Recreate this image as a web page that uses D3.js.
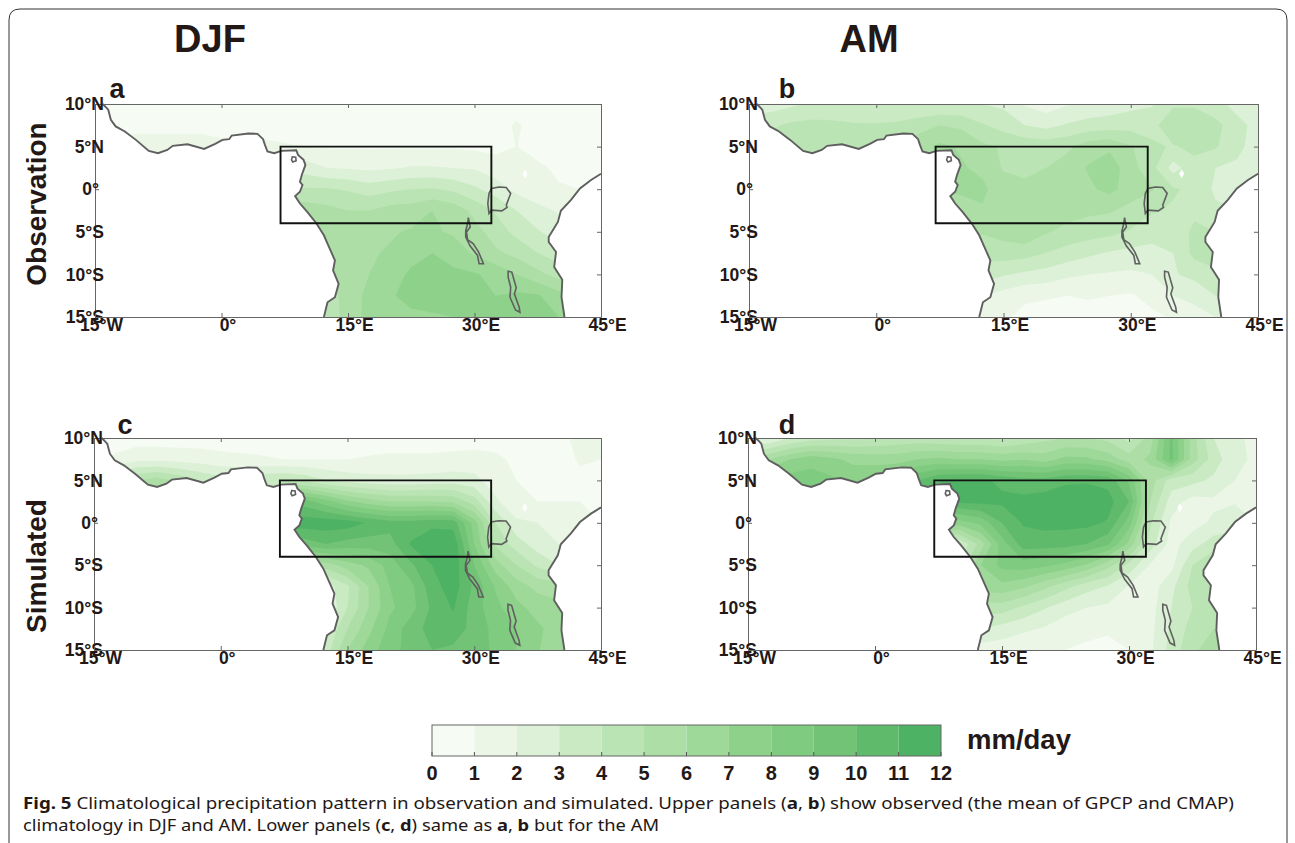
<!DOCTYPE html>
<html>
<head>
<meta charset="utf-8">
<script src="https://d3js.org/d3.v7.min.js"></script>
<style>
  html, body { margin: 0; background: #fff; }
  svg { display: block; font-family: "Liberation Sans", Arial, sans-serif; }
  .axis text { font-size: 17.5px; font-weight: bold; fill: #231815; font-family: "Liberation Sans", Arial, sans-serif; }
  .axis path, .axis line { stroke: #666; }
</style>
</head>
<body>
<div id="chart"></div>
<script>
// Grid the precipitation was read on: 25 longitudes x 11 latitudes (2.5 deg)
const gridLons = d3.range(25).map(i => -15 + i * 2.5);
const gridLats = d3.range(11).map(j => 10 - j * 2.5);
const levels = [0, 1, 2, 3, 4, 5, 6, 7, 8, 9, 10, 11, 12];
const bandColors = ["#f6fbf3", "#ebf6e7", "#dcf1d7", "#c9eac2", "#bae4b3", "#acdea6", "#9ed99a", "#8ed18b", "#7fcb7f", "#73c377", "#5fba6c", "#4eb264"];
const lonTicks = [-15, 0, 15, 30, 45];
const latTicks = [10, 5, 0, -5, -10, -15];

// Panel a: observation DJF (mm/day)
const precipA = [
  [.5,.5,.5,.5,.5,.5,.5,.5,.5,.5,.5,.5,.5,.5,.5,.5,.5,.5,.5,.5,.5,.5,.5,.5,.5],
  [.6,.6,.8,.8,.8,.8,.7,.6,.6,.5,.5,.5,.5,.5,.5,.5,.5,.5,.5,.5,1.15,.5,.5,.5,.5],
  [1.3,1.3,1.3,1.3,1.3,1.3,1.2,1.2,1.2,1.1,1,.9,.9,.9,.9,.9,.9,.9,.8,.7,1.02,.6,.5,.5,.5],
  [1.3,1.3,1.3,1.3,1.3,1.3,1.2,1.2,1.2,2.5,2.5,2,1.9,1.8,1.9,2.1,2.1,2,1.9,1.5,1.3,1.2,.8,.6,.5],
  [0,0,0,0,0,0,0,0,4,4,4.1,4.1,3.9,3.5,3.8,4,4.1,3.8,3.2,2.5,1.7,1.3,1.1,1,1],
  [0,0,0,0,0,0,0,0,5,5.5,5.6,5.3,5,5,5.4,5.5,6,5.6,4.7,3.9,3,2.3,1.9,1.5,1],
  [0,0,0,0,0,0,0,0,0,5,5.5,5.7,5.7,5.9,5.9,6.1,6.1,5.9,5.4,4.5,3.7,3.1,2.5,2.5,2.5],
  [0,0,0,0,0,0,0,0,0,0,5.5,5.5,5.8,5.9,6.1,6.6,7,6.4,5.9,5.2,4.7,4,3.5,3.5,3.5],
  [0,0,0,0,0,0,0,0,0,0,5,5,5.5,6,6.5,7.2,7.4,7.3,7.1,6.7,6,5.3,4.6,4.6,4.6],
  [0,0,0,0,0,0,0,0,0,0,4.5,4.5,5.4,6.3,6.9,7.3,7.4,7.4,7.4,7,7.2,7.1,6.4,6.4,6.4],
  [0,0,0,0,0,0,0,0,0,0,4.2,4.2,5.5,6.3,6.6,6.8,6.9,7,7,7,7.1,7.2,7,7,7]
];
// Panel b: observation AM
const precipB = [
  [2.5,2.5,2.8,3.2,3.3,3.2,3.1,3,2.9,3,3,3,2.8,1.9,1.5,1.9,2.2,2.4,2.7,2.9,3.8,3.8,3.2,2.8,2.5],
  [3.5,3.8,4.2,4.3,4.2,4.1,4.1,4.2,4.6,5,4.8,4.1,3.6,3,2.7,3.1,3.4,3.5,3.6,3.6,4.9,4.9,4.4,3.2,2.8],
  [4.5,4.5,4.7,4.8,4.6,4.4,4.5,5,5.6,6.2,5.9,5.2,4.9,4.7,4.6,4.8,5.5,5.8,5.1,4.2,3.9,4.3,4.1,3.3,2.5],
  [4.5,4.5,4.7,4.8,4.6,4.4,4.5,5,5.6,6,6.1,5.8,4.9,4.8,5,5.4,6.1,6.6,5.4,4.3,2.6,3.6,3,2.8,2.5],
  [0,0,0,0,0,0,0,0,6,6,6.2,6.2,5.5,5.2,5.4,5.6,5.8,6.3,5.5,5.1,4.1,3.8,2.8,2.5,2.3],
  [0,0,0,0,0,0,0,0,5.5,5.5,5.5,5.9,5.7,5.5,5.5,5.4,5.2,5.1,4.7,4.1,3.9,3.8,3.2,3,3],
  [0,0,0,0,0,0,0,0,0,5,5,5.1,5.4,5.8,5.1,4.7,4.5,4.3,3.9,3.5,3.4,4.2,4,4,4],
  [0,0,0,0,0,0,0,0,0,0,4.3,4.3,4.5,4.4,4,3.6,3.2,2.9,2.7,2.6,3,4.3,5,5,5],
  [0,0,0,0,0,0,0,0,0,0,3.6,3.6,3.1,2.8,2.6,2.2,2,1.9,1.8,2,2.9,3.3,3.6,3.6,3.6],
  [0,0,0,0,0,0,0,0,0,0,2,2,1.6,1.2,1.1,1,1.1,1,.9,1.3,2,2.3,3,3,3],
  [0,0,0,0,0,0,0,0,0,0,1.5,1.5,1.2,.7,.6,.6,.6,.6,.6,.8,1.1,1.6,2,2,2]
];
// Panel c: simulated DJF
const precipC = [
  [.5,.5,.5,.5,.5,.5,.5,.5,.5,.5,.5,.5,.5,.5,.5,.5,.5,.5,.5,.6,.5,.5,.7,1.3,1.1],
  [.6,1.2,1.7,1.7,1.6,1.5,1.3,1.2,1.1,1,1,1,1,1.1,1.2,1.2,1.2,1.3,1.4,1.2,.8,.6,.6,1.1,1],
  [3,4,5,5.5,4.8,4,3.4,3.3,3.8,4,3.7,3,2.6,2.4,2.3,2.3,2.4,2.5,2.3,1.5,1,.9,.8,.8,.8],
  [3,4,5,5.5,4.8,4,3.4,3.3,3.8,9,9.5,8.4,7.2,6.5,6,6,6,5.8,4.5,2.2,1.2,1,1,1,.8],
  [0,0,0,0,0,0,0,0,11.5,11.5,11.6,11.6,11.5,10.9,10.4,10.4,10.7,10.6,7.5,4,2.2,2,1.6,1.1,1],
  [0,0,0,0,0,0,0,0,9.5,9.5,9.5,10,9.6,9.5,9.6,11.1,11.8,11.8,8,4.8,3.5,2.5,2,1.8,1.5],
  [0,0,0,0,0,0,0,0,0,5,5,5.5,6.5,7.2,8.4,9.8,11,11.8,9,6.5,5,3.8,3,3,3],
  [0,0,0,0,0,0,0,0,0,0,2.5,2.5,3.8,6,8,8.7,10.6,11.5,9.8,7.9,6.5,5.7,5.5,5.5,5.5],
  [0,0,0,0,0,0,0,0,0,0,2,2,4,6,7.8,8.6,10.2,11.1,9.5,8.3,7.3,6.6,6.3,6.3,6.3],
  [0,0,0,0,0,0,0,0,0,0,3,3,5,6.7,8.3,9.5,10.4,10.6,9.6,8.7,8,7.2,6.5,6.5,6.5],
  [0,0,0,0,0,0,0,0,0,0,3.5,3.5,6,7.5,8.6,9.4,10,9.8,9.5,8.8,8,7.1,6.2,6.2,6.2]
];
// Panel d: simulated AM
const precipD = [
  [2,2,3,3.5,3.7,3.8,4,4.2,4.3,4.2,4,4,3.8,4.2,4.7,5,5,4.7,3.6,5.5,9.2,5.5,3,2.4,1.5],
  [5,6,7,7.6,7.2,6.7,6.6,6.6,7,7.2,7,7,6.7,6.9,6.5,7.3,7.2,6.6,5.5,6.2,9.3,5.5,3.5,2.3,1.8],
  [8,8.3,8.5,8.5,8.2,7.8,8,8.5,10,11,11.2,11.2,10.8,10.4,10.4,10.8,10.9,10.7,8.8,5.5,3.5,3.3,2.8,2,1.5],
  [8,8.3,8.5,8.5,8.2,7.8,8,8.5,10,10,11.2,11.3,11.2,11.3,11.5,11.7,11.6,11.4,10,5,2.5,1.6,1.8,1.9,1.6],
  [0,0,0,0,0,0,0,0,8,8,7.5,8.3,10,11.1,11.3,11.3,11.3,10.9,8.5,4.2,1.8,1.6,2.2,2.7,2],
  [0,0,0,0,0,0,0,0,3,3,3,5.5,8.5,10.5,10.5,10.4,10,9.2,6.7,3.5,1.6,2.6,3.5,3.5,3],
  [0,0,0,0,0,0,0,0,0,4,4,7,8.3,8.5,8.2,7.7,6.8,5.4,3.7,1.9,1.7,4,5,5,5],
  [0,0,0,0,0,0,0,0,0,0,6.5,6.5,6.7,6.2,5.3,4.3,3.4,2.9,1.9,1.5,2.7,4.4,5,5,5],
  [0,0,0,0,0,0,0,0,0,0,4.5,4.5,4.5,3.8,3.1,2.4,2,1.8,1.4,1.6,3,4,4.5,4.5,4.5],
  [0,0,0,0,0,0,0,0,0,0,3,3,2.6,2.2,1.9,1.4,1.3,1.2,1.2,1.7,3.2,4.4,5,5,5],
  [0,0,0,0,0,0,0,0,0,0,1.5,1.5,1.4,1.2,1.1,1,.8,.6,1,1.8,3.4,4.8,5.5,5.5,5.5]
];

// Coastlines and lakes as [lon, lat]
const westCoast = [[-14.08,10],[-13.43,9.33],[-13.12,8.15],[-12.55,7.37],[-11.46,6.78],[-10.15,5.79],[-8.62,4.5],[-7.53,4.22],[-6.43,4.61],[-5.78,5.09],[-4.03,5.28],[-2.06,4.73],[-.75,5.32],[.12,5.79],[.91,5.87],[1.21,6.3],[3.18,6.54],[4.27,6.5],[4.93,5.87],[5.15,5.2],[5.45,4.42],[6.24,4.22],[7.11,4.5],[8.86,4.58],[9.08,4.02],[9.73,3.44],[9.95,2.85],[9.52,1.67],[9.3,.88],[9.6,.49],[9.3,-.3],[8.73,-.81],[9.3,-1.68],[10.17,-2.66],[11.26,-4.03],[12.14,-5.41],[12.57,-6.39],[13.45,-8.36],[13.23,-9.54],[13.89,-11.11],[13.45,-12.68],[12.57,-13.27],[12.14,-15]];
const eastCoast = [[40.67,-15],[40.32,-12.68],[40.41,-10.64],[39.45,-9.14],[39.67,-7.37],[38.8,-6.2],[38.8,-5.61],[39.89,-3.84],[40.24,-2.54],[41.42,-1.28],[42.51,.09],[43.82,1.08],[45,1.82]];
const lakeVictoria = [[31.72,-.5],[32.02,.09],[32.9,.25],[33.77,.21],[34.29,-.5],[33.77,-1.87],[33.86,-2.15],[33.24,-2.54],[32.02,-2.46],[31.72,-2.85],[31.58,-1.68]];
const lakeTanganyika = [[29.27,-3.33],[29.49,-4.43],[29.05,-5.02],[29.18,-5.92],[29.84,-6.39],[30.49,-7.38],[31.06,-8.75],[30.54,-8.75],[30.36,-7.77],[29.49,-6.67],[28.96,-5.61],[28.96,-4.9],[29.18,-4.03]];
const lakeMalawi = [[33.99,-9.62],[34.42,-9.73],[34.95,-11.58],[34.73,-12.29],[35.3,-13.86],[35.39,-14.45],[34.86,-14.18],[34.21,-12.68],[34.29,-11.5],[33.99,-10.32]];
const bioko = [[8.4,3.8],[8.8,3.75],[8.85,3.35],[8.45,3.2],[8.3,3.45]];
const studyBox = [[7,5],[32,5],[32,-4],[7,-4]];
const missingSpot = [36, 1.8];

const panels = [
  { letter: "a", values: precipA, left: 95, right: 601, top: 104, bottom: 317, letterX: 117, letterY: 98 },
  { letter: "b", values: precipB, left: 749, right: 1258, top: 104, bottom: 317, letterX: 787, letterY: 98 },
  { letter: "c", values: precipC, left: 94, right: 601, top: 438, bottom: 650, letterX: 125, letterY: 434 },
  { letter: "d", values: precipD, left: 748, right: 1256, top: 438, bottom: 650, letterX: 787, letterY: 434 }
];

const svg = d3.select("#chart").append("svg").attr("width", 1295).attr("height", 843);

// Article frame, open at the bottom
svg.append("path")
  .attr("d", "M9,843V20Q9,9 20,9H1276Q1287,9 1287,20V843")
  .attr("fill", "none").attr("stroke", "#333").attr("stroke-width", 1);

const color = d3.scaleThreshold().domain(levels.slice(1, -1)).range(bandColors);

panels.forEach(drawPanel);

function drawPanel(p, idx) {
  const x = d3.scaleLinear().domain([-15, 45]).range([p.left, p.right]);
  const y = d3.scaleLinear().domain([-15, 10]).range([p.bottom, p.top]);
  const g = svg.append("g");
  const line = d3.line().x(d => x(d[0])).y(d => y(d[1]));

  // land shape clips the filled contours
  const land = westCoast.concat(eastCoast, [[45, 10]]);
  g.append("clipPath").attr("id", "land" + idx).append("path").attr("d", line(land) + "Z");
  const filled = g.append("g").attr("clip-path", `url(#land${idx})`);
  filled.append("rect")
    .attr("x", p.left).attr("y", p.top)
    .attr("width", p.right - p.left).attr("height", p.bottom - p.top)
    .attr("fill", bandColors[0]);

  // d3.contours puts grid index i at coordinate i + 0.5
  const contours = d3.contours()
    .size([gridLons.length, gridLats.length])
    .thresholds(levels.slice(1, -1))
    .smooth(true)(p.values.flat());
  const project = d3.geoTransform({
    point(cx, cy) {
      this.stream.point(x(gridLons[0] + (cx - 0.5) * 2.5), y(gridLats[0] - (cy - 0.5) * 2.5));
    }
  });
  filled.selectAll("path.band").data(contours).enter().append("path")
    .attr("class", "band")
    .attr("d", d3.geoPath(project))
    .attr("fill", d => color(d.value));

  // the small hole in the fields near 36E
  g.append("path")
    .attr("d", d3.symbol(d3.symbolDiamond, 22)())
    .attr("transform", `translate(${x(missingSpot[0])},${y(missingSpot[1])})`)
    .attr("fill", "#fff");

  // coast and lakes
  [westCoast, eastCoast].forEach(c => {
    g.append("path").attr("d", line(c)).attr("fill", "none").attr("stroke", "#5f5f5f").attr("stroke-width", 1.9);
  });
  [lakeVictoria, lakeTanganyika, lakeMalawi, bioko].forEach(c => {
    g.append("path").attr("d", line(c) + "Z").attr("fill", "none").attr("stroke", "#5f5f5f").attr("stroke-width", 1.6);
  });

  // axes, ticks pointing inside on all four sides
  const bottomAxis = d3.axisBottom(x).tickValues(lonTicks).tickSizeInner(-4).tickSizeOuter(0).tickPadding(2)
    .tickFormat(d => d === 0 ? "0°" : Math.abs(d) + (d < 0 ? "°W" : "°E"));
  const leftAxis = d3.axisLeft(y).tickValues(latTicks).tickSizeInner(-4).tickSizeOuter(0).tickPadding(-9)
    .tickFormat(d => d === 0 ? "0°" : Math.abs(d) + (d < 0 ? "°S" : "°N"));
  g.append("g").attr("class", "axis").attr("transform", `translate(0,${p.top})`)
    .call(d3.axisTop(x).tickValues(lonTicks).tickSizeInner(-4).tickSizeOuter(0).tickFormat(""));
  g.append("g").attr("class", "axis").attr("transform", `translate(${p.right},0)`)
    .call(d3.axisRight(y).tickValues(latTicks).tickSizeInner(-4).tickSizeOuter(0).tickFormat(""));
  const lx = g.append("g").attr("class", "axis").attr("transform", `translate(${p.left},0)`).call(leftAxis);
  lx.selectAll("text").filter(d => d === 0).attr("dx", -5);
  const bx = g.append("g").attr("class", "axis").attr("transform", `translate(0,${p.bottom})`).call(bottomAxis);
  bx.selectAll("text").attr("dx", 6);

  // study region
  g.append("path").attr("d", line(studyBox) + "Z").attr("fill", "none").attr("stroke", "#111").attr("stroke-width", 1.9);

  g.append("text").attr("x", p.letterX).attr("y", p.letterY).attr("text-anchor", "middle")
    .style("font-size", "27px").style("font-weight", "bold").attr("fill", "#231815").text(p.letter);
}

// Column and row titles
[["DJF", 210], ["AM", 869]].forEach(d => {
  svg.append("text").attr("x", d[1]).attr("y", 52).attr("text-anchor", "middle")
    .style("font-size", "38px").style("font-weight", "bold").attr("fill", "#231815").text(d[0]);
});
[["Observation", 204], ["Simulated", 566]].forEach(d => {
  svg.append("text").attr("transform", `translate(46,${d[1]}) rotate(-90)`).attr("text-anchor", "middle")
    .style("font-size", "28px").style("font-weight", "bold").attr("fill", "#231815").text(d[0]);
});

// Colour bar
const barX = d3.scaleLinear().domain([0, 12]).range([432, 941]);
const bar = svg.append("g");
bar.selectAll("rect").data(bandColors).enter().append("rect")
  .attr("x", (d, i) => barX(i)).attr("y", 725)
  .attr("width", (d, i) => barX(i + 1) - barX(i)).attr("height", 31)
  .attr("fill", d => d);
bar.append("rect").attr("x", barX(0)).attr("y", 725).attr("width", barX(12) - barX(0)).attr("height", 31)
  .attr("fill", "none").attr("stroke", "#666");
bar.selectAll("line").data(levels).enter().append("line")
  .attr("x1", d => barX(d)).attr("x2", d => barX(d)).attr("y1", 752).attr("y2", 756).attr("stroke", "#555");
bar.selectAll("text").data(levels).enter().append("text")
  .attr("x", d => barX(d)).attr("y", 780).attr("text-anchor", "middle")
  .style("font-size", "20px").style("font-weight", "bold").attr("fill", "#231815").text(d => d);
svg.append("text").attr("x", 967).attr("y", 749)
  .style("font-size", "27.5px").style("font-weight", "bold").attr("fill", "#231815").text("mm/day");

// Caption
const captionFont = '"Noto Sans", sans-serif';
const cap1 = svg.append("text").attr("x", 23).attr("y", 809).attr("textLength", 1211).attr("lengthAdjust", "spacingAndGlyphs")
  .style("font-family", captionFont).style("font-size", "16.5px").attr("fill", "#231815");
[["Fig. 5", 1], ["  Climatological precipitation pattern in observation and simulated. Upper panels (", 0], ["a", 1], [", ", 0], ["b", 1], [") show observed (the mean of GPCP and CMAP)", 0]]
  .forEach(d => cap1.append("tspan").attr("font-weight", d[1] ? "bold" : "normal").text(d[0]));
const cap2 = svg.append("text").attr("x", 23).attr("y", 831).attr("textLength", 636).attr("lengthAdjust", "spacingAndGlyphs")
  .style("font-family", captionFont).style("font-size", "16.5px").attr("fill", "#231815");
[["climatology in DJF and AM. Lower panels (", 0], ["c", 1], [", ", 0], ["d", 1], [") same as ", 0], ["a", 1], [", ", 0], ["b", 1], [" but for the AM", 0]]
  .forEach(d => cap2.append("tspan").attr("font-weight", d[1] ? "bold" : "normal").text(d[0]));
</script>
</body>
</html>
